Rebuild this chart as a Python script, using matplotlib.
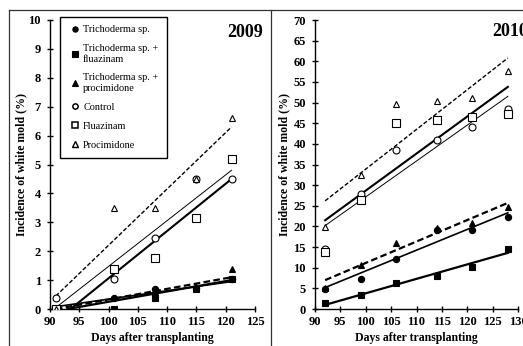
import matplotlib
matplotlib.use("Agg")
import matplotlib.pyplot as plt
from matplotlib.lines import Line2D

plt.rcParams['font.family'] = ['Liberation Serif', 'DejaVu Serif']

# ---------------- data ----------------
series_names = ["Trichoderma sp.", "Trichoderma sp. +\nfluazinam",
                "Trichoderma sp. +\nprocimidone", "Control", "Fluazinam", "Procimidone"]

days_2009 = [91, 101, 108, 115, 121]
trich_2009 = [0.0, 0.37, 0.70, 0.72, 1.05]
trich_fluaz_2009 = [0.0, 0.0, 0.37, 0.70, 1.05]
trich_procim_2009 = [0.0, 0.0, 0.60, 0.75, 1.40]
control_2009 = [0.37, 1.05, 2.45, 4.50, 4.50]
fluaz_2009 = [0.0, 1.40, 1.75, 3.14, 5.20]
procim_2009 = [0.0, 3.48, 3.48, 4.50, 6.60]

# regression lines (start day, start value, end day, end value)
fit_x0_2009 = [91, 93, 91, 91, 93.5, 91]
fit_y0_2009 = [0.08, 0.0, 0.0, 0.05, 0.0, 0.45]
fit_x1_2009 = [121, 121, 121, 121, 121, 121]
fit_y1_2009 = [0.95, 1.0, 1.1, 4.8, 4.5, 6.3]

days_2010 = [92, 99, 106, 114, 121, 128]
trich_2010 = [4.9, 7.3, 12.2, 19.1, 19.1, 22.2]
trich_fluaz_2010 = [1.4, 3.3, 6.4, 8.0, 10.2, 14.6]
trich_procim_2010 = [5.2, 10.7, 16.1, 19.5, 20.8, 24.6]
control_2010 = [14.5, 27.8, 38.5, 41.0, 44.1, 48.4]
fluaz_2010 = [13.7, 26.4, 45.1, 45.8, 46.6, 47.3]
procim_2010 = [19.8, 32.4, 49.7, 50.5, 51.2, 57.6]

fit_x0_2010 = [92, 92, 92, 92, 92, 92]
fit_y0_2010 = [5.2, 1.0, 7.0, 20.2, 21.5, 26.2]
fit_x1_2010 = [128, 128, 128, 128, 128, 128]
fit_y1_2010 = [23.3, 13.6, 25.7, 51.5, 53.8, 60.8]

xticks_2009 = [90, 95, 100, 105, 110, 115, 120, 125]
yticks_2009 = list(range(0, 11))
xticks_2010 = [90, 95, 100, 105, 110, 115, 120, 125, 130]
yticks_2010 = list(range(0, 75, 5))

# ---------------- styles ----------------
marker_styles = [
    dict(marker='o', ms=4.5, mfc='black', mec='black', mew=0.8),
    dict(marker='s', ms=4.5, mfc='black', mec='black', mew=0.8),
    dict(marker='^', ms=5.0, mfc='black', mec='black', mew=0.8),
    dict(marker='o', ms=5.0, mfc='white', mec='black', mew=0.8),
    dict(marker='s', ms=5.5, mfc='white', mec='black', mew=0.8),
    dict(marker='^', ms=5.0, mfc='white', mec='black', mew=0.8),
]
legend_marker_styles = [
    dict(marker='o', ms=3.8, mfc='black', mec='black', mew=0.8),
    dict(marker='s', ms=3.8, mfc='black', mec='black', mew=0.8),
    dict(marker='^', ms=4.2, mfc='black', mec='black', mew=0.8),
    dict(marker='o', ms=3.8, mfc='white', mec='black', mew=1.1),
    dict(marker='s', ms=4.2, mfc='white', mec='black', mew=1.1),
    dict(marker='^', ms=4.0, mfc='white', mec='black', mew=1.0),
]
line_styles = [
    dict(ls='-', lw=1.2),
    dict(ls='-', lw=1.6),
    dict(ls=(0, (3, 1.5)), lw=1.6),
    dict(ls='-', lw=0.7),
    dict(ls='-', lw=1.5),
    dict(ls=(0, (3, 1.5)), lw=1.0),
]

W, H = 523, 346
fig = plt.figure(figsize=(W / 100, H / 100), dpi=100)

def px_axes(left, right, top, bottom):
    return fig.add_axes([left / W, 1 - bottom / H, (right - left) / W, (bottom - top) / H])

ax1 = px_axes(50, 255, 20, 309)
ax2 = px_axes(315, 518, 20, 309)

panels = [
    (ax1, days_2009, [trich_2009, trich_fluaz_2009, trich_procim_2009, control_2009, fluaz_2009, procim_2009],
     fit_x0_2009, fit_y0_2009, fit_x1_2009, fit_y1_2009, xticks_2009, yticks_2009, (90, 125), (0, 10)),
    (ax2, days_2010, [trich_2010, trich_fluaz_2010, trich_procim_2010, control_2010, fluaz_2010, procim_2010],
     fit_x0_2010, fit_y0_2010, fit_x1_2010, fit_y1_2010, xticks_2010, yticks_2010, (90, 130), (0, 70)),
]

for ax, days, ys, x0, y0, x1, y1, xt, yt, xl, yl in panels:
    for i in range(6):
        ax.plot([x0[i], x1[i]], [y0[i], y1[i]], color='black', zorder=2, **line_styles[i])
    for i in range(6):
        ax.plot(days, ys[i], ls='none', zorder=3, **marker_styles[i])
    ax.set_xlim(*xl)
    ax.set_ylim(*yl)
    ax.set_xticks(xt)
    ax.set_yticks(yt)
    for s in ['top', 'right']:
        ax.spines[s].set_visible(False)
    for s in ['left', 'bottom']:
        ax.spines[s].set_linewidth(1.0)
    ax.tick_params(direction='inout', length=5, width=1.0, labelsize=9)
    ax.tick_params(axis='y', pad=4)
    ax.tick_params(axis='x', pad=2.5)
    for lab in ax.get_xticklabels() + ax.get_yticklabels():
        lab.set_fontweight('bold')
    ax.set_xlabel('Days after transplanting', fontsize=8.5, fontweight='bold', labelpad=3)
    ax.set_ylabel('Incidence of white mold (%)', fontsize=8.5, fontweight='bold')

ax1.yaxis.set_label_coords(-(50 - 27) / 205, 0.5)
ax2.yaxis.set_label_coords(-(315 - 290) / 203, 0.5)

ax1.text(1.04, 0.985, '2009', transform=ax1.transAxes, ha='right', va='top',
         fontsize=13, fontweight='bold')
ax2.text(0.872, 0.99, '2010', transform=ax2.transAxes, ha='left', va='top',
         fontsize=13, fontweight='bold', clip_on=False)

handles = [Line2D([], [], ls='none', **legend_marker_styles[i]) for i in range(6)]
leg = ax1.legend(handles, series_names, loc='upper left',
                 bbox_to_anchor=((60 - 50) / 205, (309 - 17) / 289),
                 borderaxespad=0, fontsize=7.4, labelspacing=0.95, borderpad=0.8,
                 handlelength=1.3, handletextpad=0.15, fancybox=False,
                 edgecolor='black', framealpha=1)
leg.get_frame().set_linewidth(1.0)

# figure frame lines
fx0 = 9 / W
fy_top = 1 - 10 / H
fdiv = 271 / W
for xs, ys_ in [([fx0, 1], [fy_top, fy_top]), ([fx0, fx0], [0, fy_top]), ([fdiv, fdiv], [0, fy_top])]:
    fig.add_artist(Line2D(xs, ys_, transform=fig.transFigure, color='#333333', lw=0.9))

fig.savefig('out.png', dpi=100)
